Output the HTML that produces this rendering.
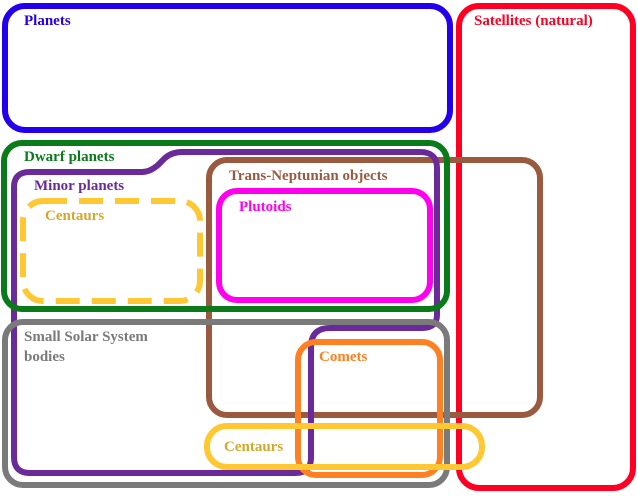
<!DOCTYPE html>
<html><head><style>
body{margin:0;background:#fff}
svg{display:block}
text{font-family:"Liberation Serif",serif;font-weight:bold;font-size:15px}
</style></head><body>
<svg width="638" height="496" viewBox="0 0 638 496">
<g fill="none" stroke-width="6">
<rect x="5" y="6" width="445" height="124" rx="20" stroke="#2200ee"/>
<rect x="459" y="6" width="174" height="482" rx="20" stroke="#ff0022"/>
<rect x="209" y="160" width="331" height="255" rx="18" stroke="#9a5a40"/>
<path d="M14 187 Q14 172 30 172 L142 172 Q150 172 158 165 L165 158 Q172 152 182 152 L420 152 Q437 152 437 168 L437 315 Q437 328 422 328 L330 328 Q311 328 311 347 L311 458 Q311 473 295 473 L30 473 Q14 473 14 457 Z" stroke="#6a2a9a"/>
<rect x="4" y="143" width="443" height="166" rx="18" stroke="#0a7a1a"/>
<rect x="219" y="191" width="211" height="109" rx="18" stroke="#ff00ee"/>
<rect x="23" y="201" width="177" height="100" rx="20" stroke="#ffc833" stroke-dasharray="24 12"/>
<rect x="5" y="322" width="442" height="163" rx="18" stroke="#7a7a7a"/>
<rect x="298" y="342" width="142" height="133" rx="18" stroke="#ff8022"/>
<rect x="207" y="426" width="275" height="41" rx="20" stroke="#ffc833"/>
</g>
<text x="24" y="25" fill="#2200ee">Planets</text>
<text x="474" y="25" fill="#ff0022">Satellites (natural)</text>
<text x="24" y="161" fill="#0a7a1a">Dwarf planets</text>
<text x="34" y="190" fill="#6a2a9a">Minor planets</text>
<text x="229" y="180" fill="#9a5a40">Trans-Neptunian objects</text>
<text x="239" y="211" fill="#ff00ee">Plutoids</text>
<text x="45" y="220" fill="#d4a82a">Centaurs</text>
<text x="24" y="341" fill="#7a7a7a">Small Solar System</text>
<text x="24" y="361" fill="#7a7a7a">bodies</text>
<text x="319" y="361" fill="#ff8022">Comets</text>
<text x="224" y="451" fill="#d4a82a">Centaurs</text>
</svg>
</body></html>
